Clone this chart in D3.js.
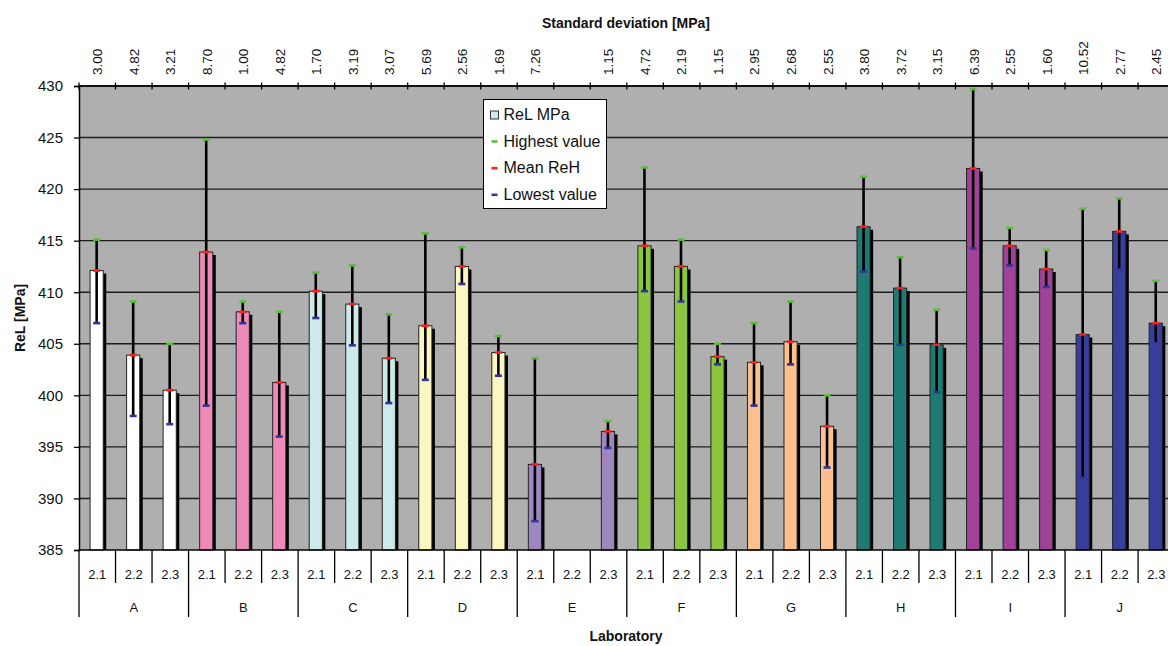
<!DOCTYPE html>
<html><head><meta charset="utf-8">
<script src="https://cdn.jsdelivr.net/npm/d3@7/dist/d3.min.js"></script>
<style>
body{margin:0;background:#fff}
svg{display:block}
text{font-family:"Liberation Sans",Arial,sans-serif;fill:#111}
</style>
</head><body>
<svg id="c" width="1168" height="646"></svg>
<script>
const groups = ["A","B","C","D","E","F","G","H","I","J"];
const subs = ["2.1","2.2","2.3"];
const stdevLabels = ["3.00","4.82","3.21","8.70","1.00","4.82","1.70","3.19","3.07","5.69","2.56","1.69","7.26","","1.15","4.72","2.19","1.15","2.95","2.68","2.55","3.80","3.72","3.15","6.39","2.55","1.60","10.52","2.77","2.45"];
const meanValues = [412.1,403.9,400.5, 413.9,408.1,401.25, 410.1,408.85,403.6, 406.75,412.5,404.15, 393.3,null,396.5, 414.5,412.5,403.75, 403.2,405.2,397.0, 416.35,410.4,404.9, 422.0,414.5,412.25, 405.9,415.9,407.0];
const highValues = [415.1,409.1,405.0, 424.8,409.1,408.1, 411.9,412.6,407.85, 415.7,414.35,405.75, 403.6,null,397.5, 422.1,415.1,405.0, 407.0,409.1,400.0, 421.2,413.4,408.3, 429.7,416.25,414.1, 418.1,419.1,411.1];
const lowValues = [407.0,398.0,397.2, 399.0,407.0,396.0, 407.5,404.85,399.25, 401.5,410.8,401.9, 387.8,null,394.9, 410.1,409.1,403.0, 399.0,403.0,393.0, 412.0,404.9,400.3, 414.25,412.6,410.5, 392.0,412.2,405.05];
const groupColors = ["#ffffff","#ee8ab8","#cdeaea","#fcf7c0","#9e86c0","#8cc63f","#fbc08e","#1f7a74","#a0419a","#373f9c"];
const yTicks = [385,390,395,400,405,410,415,420,425,430];
const legendLabels = ["ReL MPa","Highest value","Mean ReH","Lowest value"];

const cats = groups.flatMap(g => subs.map(s => g + " " + s));
const rows = cats.map((c,i) => ({c, g: groups[Math.floor(i/3)], s: subs[i%3], mean: meanValues[i], hi: highValues[i], lo: lowValues[i], sd: stdevLabels[i]}));

const L = 79, R = 1174.6, T = 86, B = 550;
const x = d3.scaleBand().domain(cats).range([L, R]);
const y = d3.scaleLinear().domain([385, 430]).range([B, T]);
const color = d3.scaleOrdinal().domain(groups).range(groupColors);
const bw = x.bandwidth();
const barW = bw * 0.36;
const cx = c => x(c) + bw/2 - 0.6;

const svg = d3.select("#c");

// plot background
svg.append("rect").attr("x", L).attr("y", T).attr("width", R - L).attr("height", B - T).attr("fill", "#afafaf");

// gridlines
svg.append("g").selectAll("line").data(yTicks.filter(v => v > 385)).join("line")
  .attr("x1", L).attr("x2", R).attr("y1", d => y(d)).attr("y2", d => y(d))
  .attr("stroke", "#1c1c1c").attr("stroke-width", 1.4);

// bars
const data = rows.filter(d => d.mean != null);
const bars = svg.append("g");
bars.selectAll("rect.sh").data(data).join("rect").attr("class","sh")
  .attr("x", d => cx(d.c) - barW/2 + 3).attr("y", d => y(d.mean) + 3)
  .attr("width", barW).attr("height", d => B - y(d.mean) - 3).attr("fill", "#000");
bars.selectAll("rect.bar").data(data).join("rect").attr("class","bar")
  .attr("x", d => cx(d.c) - barW/2).attr("y", d => y(d.mean))
  .attr("width", barW).attr("height", d => B - y(d.mean))
  .attr("fill", d => color(d.g)).attr("stroke", "#222").attr("stroke-width", 1);

// error lines
const err = svg.append("g");
err.selectAll("line").data(data).join("line")
  .attr("x1", d => cx(d.c)).attr("x2", d => cx(d.c))
  .attr("y1", d => y(d.lo)).attr("y2", d => y(d.hi))
  .attr("stroke", "#000").attr("stroke-width", 2.6);
const caps = [["hi","#5cbd3c"],["mean","#ff1f1f"],["lo","#343499"]];
caps.forEach(([k,col]) => {
  err.append("g").selectAll("rect").data(data).join("rect")
    .attr("x", d => cx(d.c) - 3.5).attr("y", d => y(d[k]) - 1.3)
    .attr("width", 7).attr("height", 2.6).attr("fill", col);
});

// left axis
const ya = svg.append("g").attr("transform", `translate(${L},0)`)
  .call(d3.axisLeft(y).tickValues(yTicks).tickSize(5).tickPadding(11).tickFormat(d3.format("d")));
ya.select(".domain").attr("stroke", "#000").attr("stroke-width", 1.5);
ya.selectAll(".tick line").attr("stroke", "#000").attr("stroke-width", 1.3);
ya.selectAll(".tick text").attr("font-size", 15).attr("fill", "#111").style("font-family", '"Liberation Sans",Arial,sans-serif');

// top axis line & ticks
svg.append("line").attr("x1", L).attr("x2", R).attr("y1", T).attr("y2", T).attr("stroke", "#000").attr("stroke-width", 1.5);
const bounds = cats.map(c => x(c)).concat([R]);
svg.append("g").selectAll("line").data(bounds).join("line")
  .attr("x1", d => d).attr("x2", d => d).attr("y1", T - 3.5).attr("y2", T + 3.5)
  .attr("stroke", "#000").attr("stroke-width", 1.3);
svg.append("g").selectAll("text").data(rows.filter(d => d.sd !== "")).join("text")
  .attr("transform", d => `translate(${x(d.c) + bw/2},75) rotate(-90)`)
  .attr("dy", "0.36em").attr("text-anchor", "start").attr("font-size", 13.5).text(d => d.sd);

// bottom axis
svg.append("line").attr("x1", L).attr("x2", R).attr("y1", B).attr("y2", B).attr("stroke", "#000").attr("stroke-width", 1.5);
svg.append("g").selectAll("line").data(bounds.map((b,i) => ({b, grp: i % 3 === 0}))).join("line")
  .attr("x1", d => d.b).attr("x2", d => d.b).attr("y1", B)
  .attr("y2", d => d.grp ? B + 67 : B + 33)
  .attr("stroke", "#000").attr("stroke-width", 1.3);
svg.append("g").selectAll("text").data(rows).join("text")
  .attr("x", d => x(d.c) + bw/2).attr("y", 579).attr("text-anchor", "middle")
  .attr("font-size", 13).text(d => d.s);
svg.append("g").selectAll("text").data(groups).join("text")
  .attr("x", g => (x(g + " " + subs[0]) + x(g + " " + subs[2]) + bw) / 2).attr("y", 612)
  .attr("text-anchor", "middle").attr("font-size", 13).text(g => g);

// titles
svg.append("text").attr("x", 626).attr("y", 28).attr("text-anchor", "middle")
  .attr("font-size", 14).attr("font-weight", "bold").text("Standard deviation [MPa]");
svg.append("text").attr("x", 626).attr("y", 641).attr("text-anchor", "middle")
  .attr("font-size", 14).attr("font-weight", "bold").text("Laboratory");
svg.append("text").attr("transform", "translate(25,318) rotate(-90)").attr("text-anchor", "middle")
  .attr("font-size", 14).attr("font-weight", "bold").text("ReL [MPa]");

// legend
const lg = svg.append("g").attr("transform", "translate(483.5,99.5)");
lg.append("rect").attr("width", 123).attr("height", 109).attr("fill", "#fff").attr("stroke", "#000").attr("stroke-width", 1);
const legendMarks = ["swatch","#5cbd3c","#ff1f1f","#343499"];
legendLabels.forEach((t, i) => {
  const by = 20.5 + i * 26.67;
  if (i === 0) {
    lg.append("rect").attr("x", 7).attr("y", by - 9).attr("width", 8).attr("height", 8)
      .attr("fill", groupColors[2]).attr("stroke", "#333").attr("stroke-width", 1);
  } else {
    lg.append("rect").attr("x", 8).attr("y", by - 6.5).attr("width", 6).attr("height", 2.6).attr("fill", legendMarks[i]);
  }
  lg.append("text").attr("x", 20).attr("y", by).attr("font-size", 16).text(t);
});
</script>
</body></html>
